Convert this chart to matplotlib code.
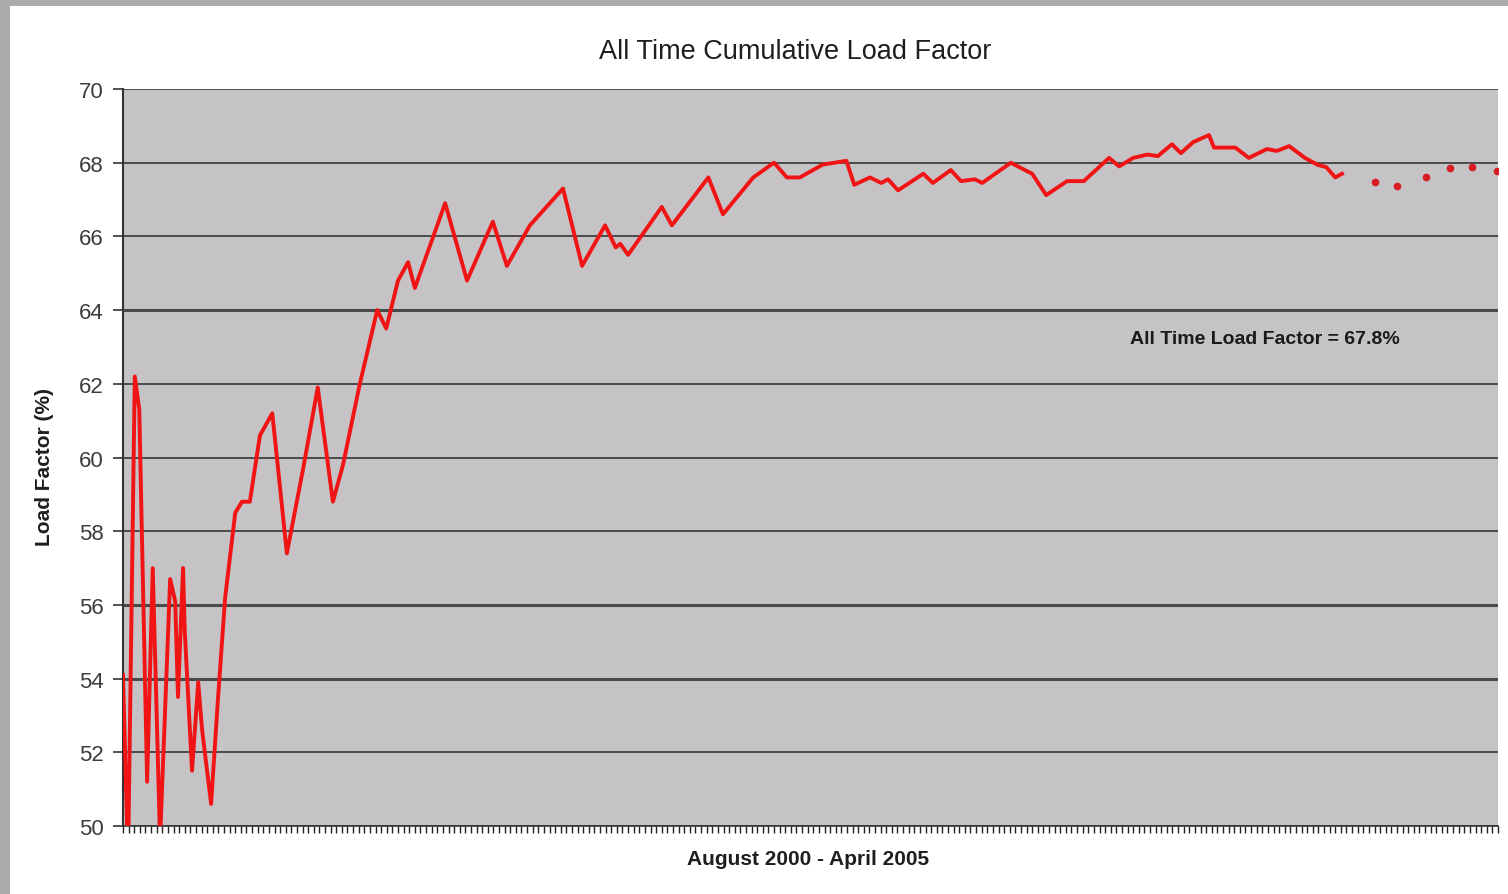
import matplotlib
matplotlib.use("Agg")
import matplotlib.pyplot as plt
import numpy as np
from matplotlib.patches import Rectangle

plt.rcParams['font.family'] = ['Liberation Sans', 'DejaVu Sans']

# weeks since August 2000 and cumulative load factor (%)
weeks = [0.0, 0.9, 2.1, 2.9, 4.3, 5.3, 6.6, 8.4, 9.3, 9.8, 10.7, 11.0, 12.3, 13.4,
         14.1, 15.7, 16.9, 18.2, 20.0, 21.2, 22.6, 24.4, 26.6, 29.2, 32.1, 34.7,
         37.4, 39.2, 42.2, 45.3, 46.9, 49.0, 50.8, 52.0, 57.4, 61.3, 65.9, 68.4,
         72.5, 78.4, 81.8, 85.9, 87.8, 88.6, 90.0, 96.0, 97.8, 104.3, 106.9,
         112.3, 116.0, 118.3, 120.6, 124.7, 128.9, 130.3, 133.1, 135.1, 136.3,
         138.1, 142.6, 144.3, 147.5, 149.3, 151.8, 153.1, 158.2, 160.7, 162.0,
         164.5, 168.2, 171.2, 175.7, 177.5, 180.0, 182.5, 184.4, 186.9, 188.5,
         190.7, 193.5, 194.4, 198.2, 200.6, 203.8, 205.6, 207.8, 210.6, 212.9,
         214.4, 216.0, 217.2]
load = [54.1, 49.0, 62.2, 61.3, 51.2, 57.0, 49.6, 56.7, 56.1, 53.5, 57.0, 55.3, 51.5, 53.9,
        52.6, 50.6, 53.4, 56.2, 58.5, 58.8, 58.8, 60.6, 61.2, 57.4, 59.7, 61.9,
        58.8, 59.8, 62.0, 64.0, 63.5, 64.8, 65.3, 64.6, 66.9, 64.8, 66.4, 65.2,
        66.3, 67.3, 65.2, 66.3, 65.7, 65.8, 65.5, 66.8, 66.3, 67.6, 66.6,
        67.6, 68.0, 67.6, 67.6, 67.95, 68.05, 67.4, 67.6, 67.45, 67.55,
        67.25, 67.7, 67.45, 67.8, 67.5, 67.55, 67.45, 68.0, 67.8, 67.7,
        67.12, 67.5, 67.5, 68.13, 67.9, 68.13, 68.22, 68.18, 68.5, 68.26,
        68.56, 68.75, 68.41, 68.41, 68.13, 68.37, 68.32, 68.45, 68.13, 67.94,
        67.88, 67.6, 67.7]

# later isolated readings
late_weeks = [223.1, 227.0, 232.2, 236.5, 240.4, 244.9]
late_load = [67.47, 67.37, 67.6, 67.85, 67.88, 67.78]

n_weeks = 246
yticks = [50, 52, 54, 56, 58, 60, 62, 64, 66, 68, 70]
grid_lw = [1.4, 1.4, 2.2, 2.2, 1.4, 1.4, 1.4, 2.2, 1.4, 1.4, 1.4]

fig = plt.figure(figsize=(15.08, 8.95), dpi=100)
fig.patch.set_facecolor('white')
# grey window frame on left and top
fig.patches.append(Rectangle((0, 0), 10 / 1508, 1, transform=fig.transFigure,
                             facecolor='#ababab', edgecolor='none'))
fig.patches.append(Rectangle((0, 1 - 7 / 895), 1, 7 / 895, transform=fig.transFigure,
                             facecolor='#ababab', edgecolor='none'))

ax = fig.add_axes([123 / 1508, 1 - 827 / 895, 1375 / 1508, 737 / 895])
ax.set_facecolor('#c5c3c6')

for yv, lw in zip(yticks, grid_lw):
    ax.axhline(yv, color='#4a4a4a', lw=lw, zorder=1)

ax.plot(weeks, load, color='#f01414', lw=2.8, zorder=3, solid_joinstyle='round')
ax.plot(late_weeks, late_load, 'o', color='#d81c24', ms=4.5, zorder=3)

ax.set_xlim(0, n_weeks - 1)
ax.set_ylim(50, 70)
ax.set_yticks(yticks)
ax.set_xticks(np.arange(n_weeks))
ax.set_xticklabels([])
ax.tick_params(axis='x', length=5, width=1, color='#222222', direction='out')
ax.tick_params(axis='y', length=7, width=1.2, color='#333333', labelsize=16,
               labelcolor='#3c3c3c', pad=7)

for s in ['top', 'right']:
    ax.spines[s].set_visible(False)
ax.spines['left'].set_color('#333333')
ax.spines['left'].set_linewidth(1.5)
ax.spines['bottom'].set_color('#333333')
ax.spines['bottom'].set_linewidth(1.2)

ax.text(179.4, 63.24, 'All Time Load Factor = 67.8%', ha='left', va='center',
        fontsize=14, fontweight='bold', color='#1a1a1a')

fig.text(795 / 1508, 1 - 52 / 895, 'All Time Cumulative Load Factor', ha='center',
         va='center', fontsize=19.5, color='#1e1e1e')
fig.text(808 / 1508, 1 - 860 / 895, 'August 2000 - April 2005', ha='center',
         va='center', fontsize=15, fontweight='bold', color='#1e1e1e')
fig.text(45 / 1508, 1 - 467 / 895, 'Load Factor (%)', ha='center', va='center',
         rotation=90, fontsize=15, fontweight='bold', color='#1e1e1e')

fig.savefig('out.png', dpi=100)
